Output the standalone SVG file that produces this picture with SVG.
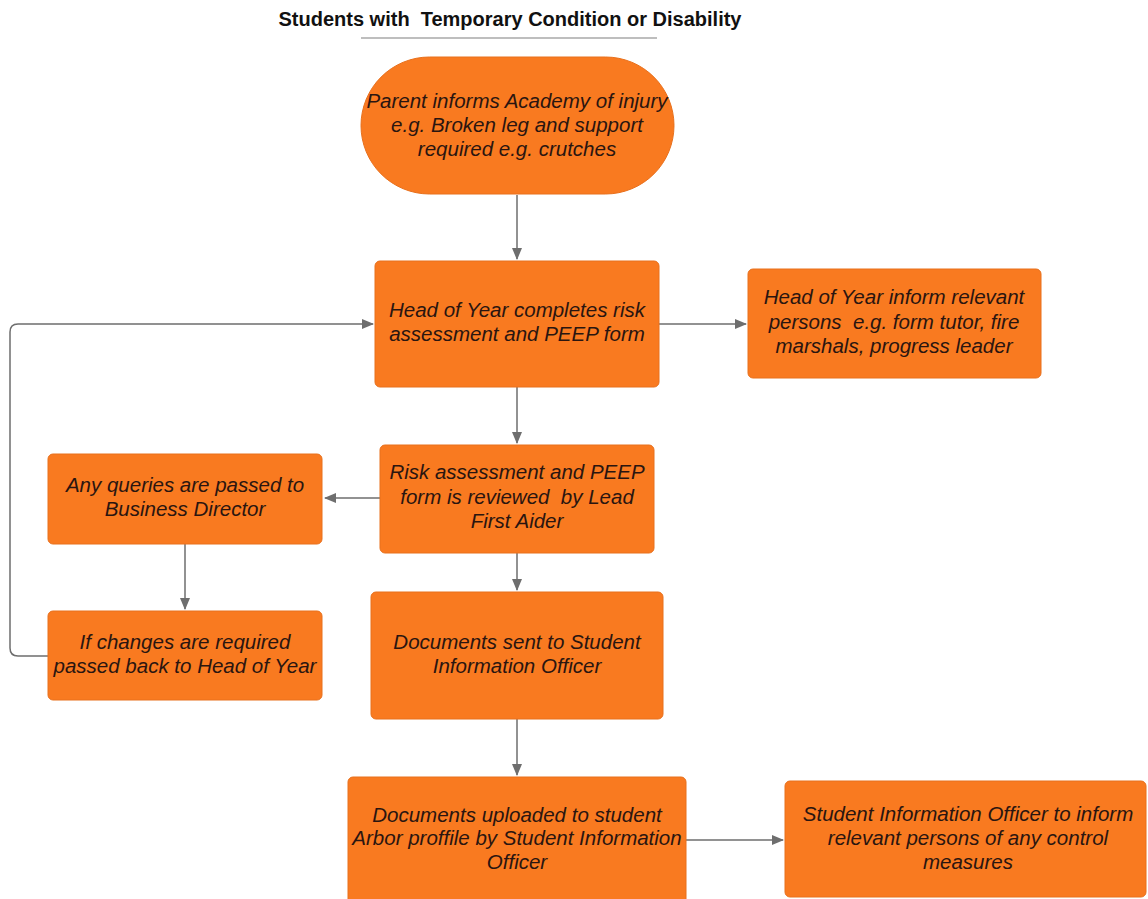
<svg xmlns="http://www.w3.org/2000/svg" width="1148" height="899" viewBox="0 0 1148 899">
<style>
.box{fill:#F97A20;stroke:#E8701C;stroke-width:1}
.t{font-family:"Liberation Sans",Arial,sans-serif;font-style:italic;font-size:20.5px;fill:#2a1510;text-anchor:middle}
.title{font-family:"Liberation Sans",Arial,sans-serif;font-weight:bold;font-size:20px;fill:#111;text-anchor:middle}
.c{fill:none;stroke:#6e6e6e;stroke-width:1.5}
</style>
<defs>
<marker id="ah" markerWidth="12" markerHeight="10" refX="11" refY="5" orient="auto" markerUnits="userSpaceOnUse"><path d="M0,0 L12,5 L0,10 Z" fill="#6e6e6e"/></marker>
</defs>
<rect width="1148" height="899" fill="#fff"/>
<g id="title">
<text class="title" x="510" y="26" xml:space="preserve">Students with  Temporary Condition or Disability</text>
<line x1="361" y1="38" x2="657" y2="38" stroke="#a8a8a8" stroke-width="1.5"/>
</g>
<g id="connectors">
<line class="c" x1="517" y1="195" x2="517" y2="259" marker-end="url(#ah)"/>
<line class="c" x1="659" y1="324" x2="746" y2="324" marker-end="url(#ah)"/>
<line class="c" x1="517" y1="387" x2="517" y2="443" marker-end="url(#ah)"/>
<line class="c" x1="380" y1="498" x2="325" y2="498" marker-end="url(#ah)"/>
<line class="c" x1="185" y1="544" x2="185" y2="609" marker-end="url(#ah)"/>
<path class="c" d="M48,656 L18,656 Q10,656 10,648 L10,332 Q10,324 18,324 L373,324" marker-end="url(#ah)"/>
<line class="c" x1="517" y1="553" x2="517" y2="590" marker-end="url(#ah)"/>
<line class="c" x1="517" y1="719" x2="517" y2="775" marker-end="url(#ah)"/>
<line class="c" x1="686" y1="840" x2="783" y2="840" marker-end="url(#ah)"/>
</g>
<g id="n1">
<rect class="box" x="361" y="57" width="313" height="137" rx="68.5"/>
<text class="t" x="517" y="108">Parent informs Academy of injury</text>
<text class="t" x="517" y="132">e.g. Broken leg and support</text>
<text class="t" x="517" y="156">required e.g. crutches</text>
</g>
<g id="n2">
<rect class="box" x="375" y="261" width="284" height="126" rx="5"/>
<text class="t" x="517" y="317">Head of Year completes risk</text>
<text class="t" x="517" y="341">assessment and PEEP form</text>
</g>
<g id="n3">
<rect class="box" x="748" y="269" width="293" height="109" rx="5"/>
<text class="t" x="894" y="304">Head of Year inform relevant</text>
<text class="t" x="894" y="329" xml:space="preserve">persons  e.g. form tutor, fire</text>
<text class="t" x="894" y="353">marshals, progress leader</text>
</g>
<g id="n4">
<rect class="box" x="380" y="445" width="274" height="108" rx="5"/>
<text class="t" x="517" y="479">Risk assessment and PEEP</text>
<text class="t" x="517" y="504" xml:space="preserve">form is reviewed  by Lead</text>
<text class="t" x="517" y="528">First Aider</text>
</g>
<g id="n5">
<rect class="box" x="48" y="454" width="274" height="90" rx="5"/>
<text class="t" x="185" y="492">Any queries are passed to</text>
<text class="t" x="185" y="516">Business Director</text>
</g>
<g id="n6">
<rect class="box" x="48" y="611" width="274" height="89" rx="5"/>
<text class="t" x="185" y="649">If changes are required</text>
<text class="t" x="185" y="673">passed back to Head of Year</text>
</g>
<g id="n7">
<rect class="box" x="371" y="592" width="292" height="127" rx="5"/>
<text class="t" x="517" y="649">Documents sent to Student</text>
<text class="t" x="517" y="673">Information Officer</text>
</g>
<g id="n8">
<rect class="box" x="348" y="777" width="338" height="130" rx="5"/>
<text class="t" x="517" y="822">Documents uploaded to student</text>
<text class="t" x="517" y="845">Arbor proffile by Student Information</text>
<text class="t" x="517" y="869">Officer</text>
</g>
<g id="n9">
<rect class="box" x="785" y="781" width="361" height="116" rx="5"/>
<text class="t" x="968" y="821">Student Information Officer to inform</text>
<text class="t" x="968" y="845">relevant persons of any control</text>
<text class="t" x="968" y="869">measures</text>
</g>
</svg>
